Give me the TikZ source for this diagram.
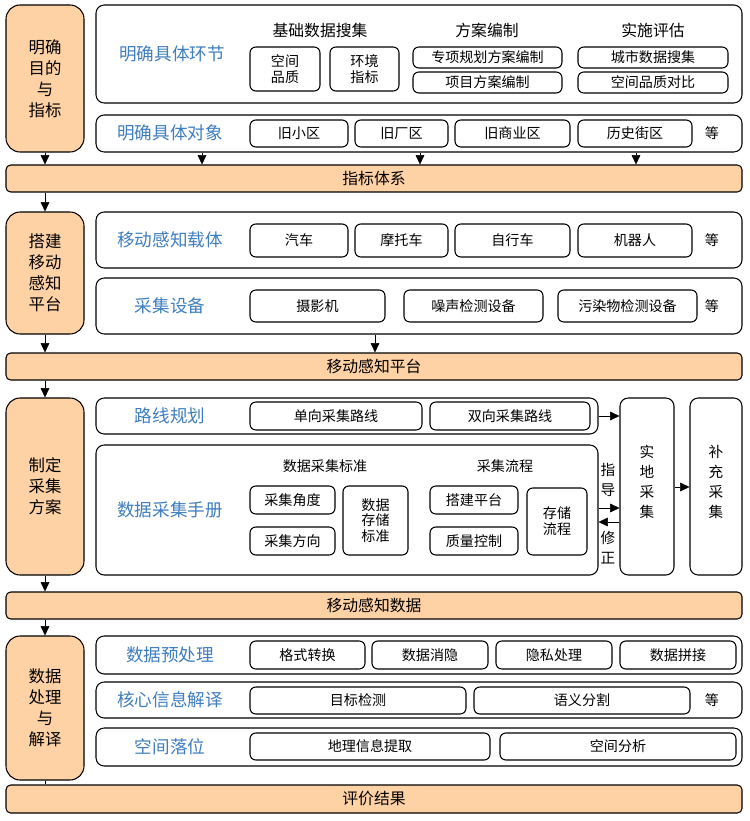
\documentclass[tikz,border=0pt]{standalone}
\usepackage{fontspec}
\setmainfont{Noto Sans CJK SC}
\usetikzlibrary{arrows.meta,positioning}
\tikzset{>={Triangle[length=2.8mm,width=2.6mm]}}
\colorlet{stageFill}{orange!35!white}
\definecolor{labelBlue}{RGB}{62,125,190}
\tikzset{
  stagebox/.style={draw,line width=0.9pt,fill=stageFill,rounded corners=12pt,align=center,font=\fontsize{14}{18}\selectfont},
  barbox/.style={draw,line width=0.9pt,fill=stageFill,rounded corners=4pt,font=\fontsize{13.5}{15}\selectfont},
  panelbox/.style={draw,line width=0.9pt,rounded corners=7pt},
  itembox/.style={draw,line width=0.9pt,rounded corners=5pt,align=center,inner sep=1pt,font=\fontsize{12}{13.5}\selectfont},
  bluetext/.style={text=labelBlue,font=\fontsize{15}{17}\selectfont},
  headtext/.style={font=\fontsize{13.5}{15}\selectfont},
  plaintext/.style={font=\fontsize{12}{14}\selectfont,align=center}
}
% [style]{x1}{y1}{x2}{y2}{name}{text}
\newcommand{\boxat}[7][itembox]{%
  \node[#1,minimum width={(#4-#2)*0.03cm},minimum height={(#5-#3)*0.03cm}] (#6) at ({(#2+#4)/2},{(#3+#5)/2}) {#7};}
\begin{document}
\begin{tikzpicture}[x=0.03cm,y=-0.03cm]
\useasboundingbox (0,0) rectangle (749,821);
% stages on the left
\boxat[stagebox]{6}{5}{84}{152}{goal}{明确\\目的\\与\\指标}
\boxat[stagebox]{6}{212}{84}{334}{platform}{搭建\\移动\\感知\\平台}
\boxat[stagebox]{6}{398}{84}{575}{plan}{制定\\采集\\方案}
\boxat[stagebox]{6}{636}{84}{780}{process}{数据\\处理\\与\\解译}
% bars
\boxat[barbox]{6}{165}{742}{192}{index}{指标体系}
\boxat[barbox]{6}{353}{742}{380}{mplatform}{移动感知平台}
\boxat[barbox]{6}{592}{742}{619}{mdata}{移动感知数据}
\boxat[barbox]{6}{785}{742}{813}{result}{评价结果}
% panels
\boxat[panelbox]{96}{5}{742}{103}{link}{}
\boxat[panelbox]{96}{115}{742}{152}{object}{}
\boxat[panelbox]{96}{212}{742}{268}{carrier}{}
\boxat[panelbox]{96}{278}{742}{334}{device}{}
\boxat[panelbox]{96}{398}{598}{434}{route}{}
\boxat[panelbox]{96}{445}{598}{575}{manual}{}
\boxat[panelbox]{620}{398}{674}{575}{field}{}
\boxat[panelbox]{690}{398}{742}{575}{extra}{}
\boxat[panelbox]{96}{636}{742}{674}{pre}{}
\boxat[panelbox]{96}{682}{742}{718}{core}{}
\boxat[panelbox]{96}{728}{742}{766}{locate}{}
% blue labels
\node[bluetext] at (172,54) {明确具体环节};
\node[bluetext] at (170,133) {明确具体对象};
\node[bluetext] at (170,240) {移动感知载体};
\node[bluetext] at (170,306) {采集设备};
\node[bluetext] at (170,416) {路线规划};
\node[bluetext] at (170,510) {数据采集手册};
\node[bluetext] at (170,655) {数据预处理};
\node[bluetext] at (170,700) {核心信息解译};
\node[bluetext] at (170,747) {空间落位};
% 明确具体环节
\node[headtext] at (320,30) {基础数据搜集};
\node[headtext] at (487,30) {方案编制};
\node[headtext] at (653,30) {实施评估};
\boxat{250}{47}{320}{91}{quality}{空间\\品质}
\boxat{330}{47}{399}{91}{env}{环境\\指标}
\boxat{413}{47}{562}{68}{special}{专项规划方案编制}
\boxat{413}{72}{562}{93}{project}{项目方案编制}
\boxat{578}{47}{728}{68}{citydata}{城市数据搜集}
\boxat{578}{72}{728}{93}{compare}{空间品质对比}
% 明确具体对象
\boxat{250}{120}{348}{147}{oldres}{旧小区}
\boxat{355}{120}{448}{147}{oldfac}{旧厂区}
\boxat{455}{120}{570}{147}{oldcom}{旧商业区}
\boxat{578}{120}{692}{147}{hist}{历史街区}
\node[plaintext] at (712,133) {等};
% 移动感知载体
\boxat{250}{224}{348}{257}{car}{汽车}
\boxat{355}{224}{448}{257}{moto}{摩托车}
\boxat{455}{224}{570}{257}{bike}{自行车}
\boxat{578}{224}{692}{257}{robot}{机器人}
\node[plaintext] at (712,240) {等};
% 采集设备
\boxat{250}{290}{385}{322}{camera}{摄影机}
\boxat{404}{290}{543}{322}{noise}{噪声检测设备}
\boxat{558}{290}{697}{322}{pollute}{污染物检测设备}
\node[plaintext] at (712,306) {等};
% 路线规划
\boxat{250}{402}{422}{430}{oneway}{单向采集路线}
\boxat{430}{402}{590}{430}{twoway}{双向采集路线}
% 数据采集手册
\node[plaintext] at (325,466) {数据采集标准};
\node[plaintext] at (505,466) {采集流程};
\boxat{250}{486}{335}{514}{angle}{采集角度}
\boxat{250}{527}{335}{555}{direct}{采集方向}
\boxat{343}{486}{408}{555}{storestd}{数据\\存储\\标准}
\boxat{430}{486}{518}{514}{build}{搭建平台}
\boxat{430}{527}{518}{555}{qc}{质量控制}
\boxat{527}{488}{587}{555}{storeflow}{存储\\流程}
% 实地 / 补充
\node[plaintext,font=\fontsize{12.5}{17}\selectfont] at (647,482) {实\\地\\采\\集};
\node[plaintext,font=\fontsize{12.5}{17}\selectfont] at (716,482) {补\\充\\采\\集};
\node[plaintext,font=\fontsize{12.5}{17}\selectfont] at (608,480) {指\\导};
\node[plaintext,font=\fontsize{12.5}{17}\selectfont] at (608,548) {修\\正};
% 数据预处理
\boxat{250}{641}{365}{669}{format}{格式转换}
\boxat{372}{641}{488}{669}{blank}{数据消隐}
\boxat{496}{641}{612}{669}{privacy}{隐私处理}
\boxat{620}{641}{736}{669}{stitch}{数据拼接}
% 核心信息解译
\boxat{250}{687}{466}{714}{detect}{目标检测}
\boxat{474}{687}{690}{714}{segment}{语义分割}
\node[plaintext] at (712,700) {等};
% 空间落位
\boxat{250}{733}{490}{760}{geo}{地理信息提取}
\boxat{500}{733}{736}{760}{spatial}{空间分析}
% arrows
\draw[->] (goal.south) -- (index.north -| goal.south);
\draw[->] (index.south -| platform.north) -- (platform.north);
\draw[->] (platform.south) -- (mplatform.north -| platform.south);
\draw[->] (mplatform.south -| plan.north) -- (plan.north);
\draw[->] (plan.south) -- (mdata.north -| plan.south);
\draw[->] (mdata.south -| process.north) -- (process.north);
\draw (process.south) -- (result.north -| process.south);
\foreach \px in {202,420,636}
  \draw[->] (object.south -| {(\px,0)}) -- (index.north -| {(\px,0)});
\draw[->] (device.south -| {(375,0)}) -- (mplatform.north -| {(375,0)});
\draw[->] (route.east) -- (route.east -| field.west);
\draw[->] (manual.east |- {(0,508)}) -- (field.west |- {(0,508)});
\draw[->] (field.west |- {(0,522)}) -- (manual.east |- {(0,522)});
\draw[->] (field.east |- {(0,487)}) -- (extra.west |- {(0,487)});
\end{tikzpicture}
\end{document}
